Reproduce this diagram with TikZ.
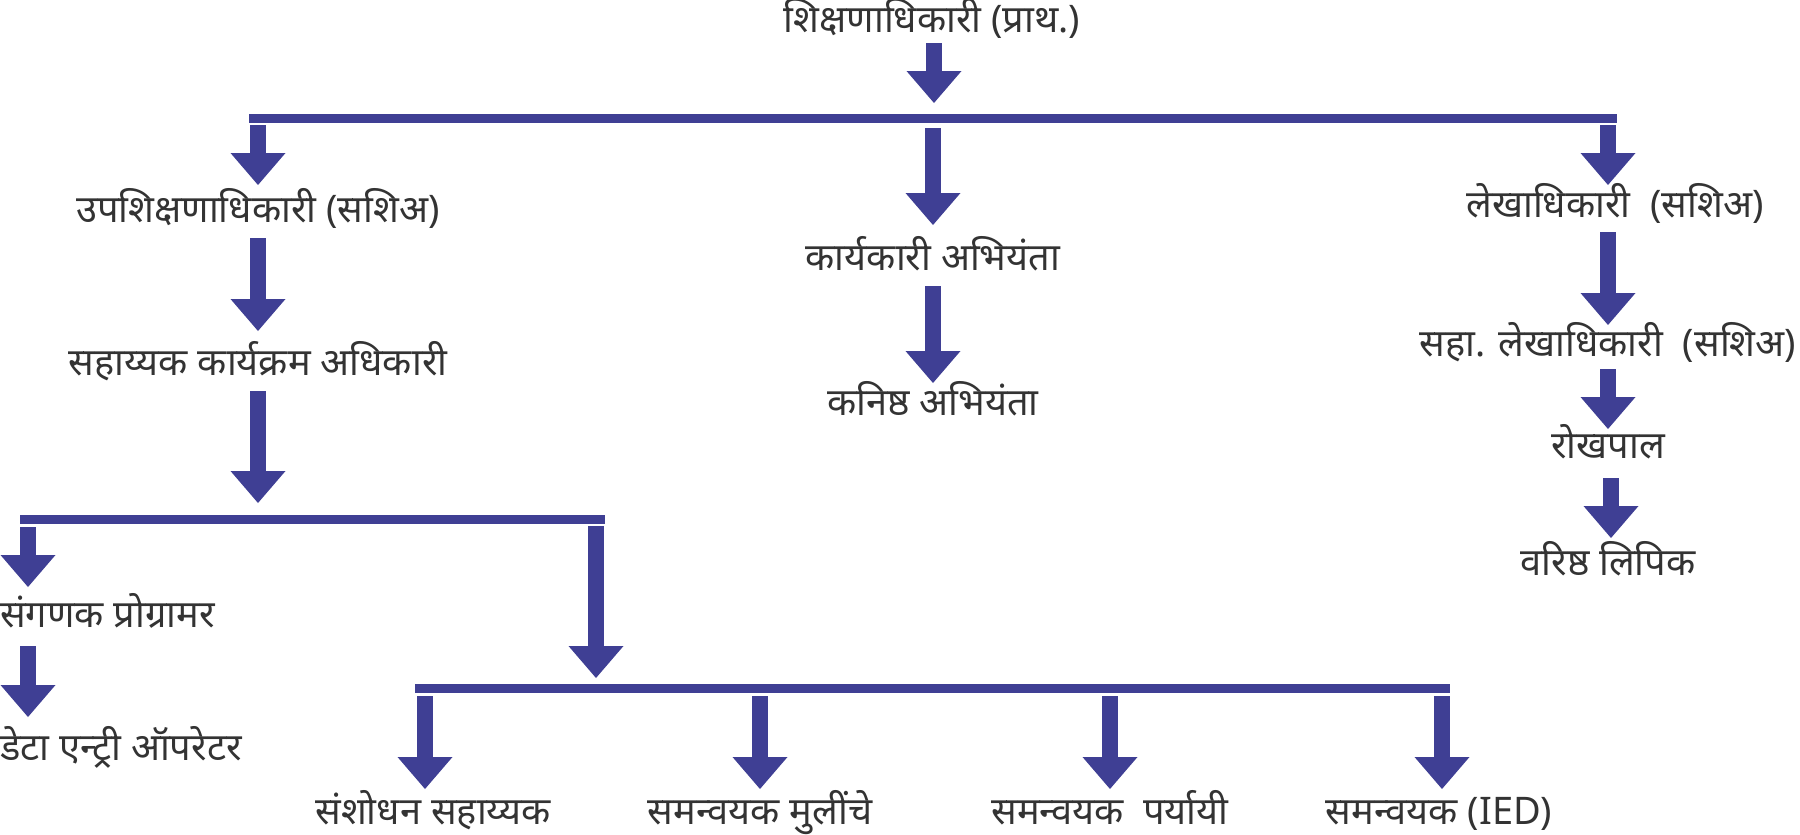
\documentclass[tikz,border=0pt]{standalone}
\usepackage{fontspec}
\newfontfamily\deva[Script=Devanagari]{Noto Sans}
\usetikzlibrary{arrows.meta}
\definecolor{arrowblue}{RGB}{63,63,148}
\definecolor{txtgrey}{RGB}{51,51,51}
\tikzset{
  lbl/.style={inner sep=0pt, outer sep=0pt, text=txtgrey, font=\deva\fontsize{38}{44}\selectfont, anchor=base},
  bar/.style={draw=arrowblue, line width=9pt, line cap=butt},
  blk/.style={draw=arrowblue, line width=16pt, line cap=butt,
    -{Triangle[length=32pt,width=55pt,line width=0pt,fill=arrowblue]}}
}
\begin{document}
\begin{tikzpicture}[x=1pt,y=-1pt]
\useasboundingbox (0,0) rectangle (1800,835);
% text nodes
\node[lbl] (top) at (932,32) {शिक्षणाधिकारी (प्राथ.)};
\node[lbl] (upa) at (258,222) {उपशिक्षणाधिकारी (सशिअ)};
\node[lbl] (sahkp) at (258,375) {सहाय्यक कार्यक्रम अधिकारी};
\node[lbl] (karya) at (933,270) {कार्यकारी अभियंता};
\node[lbl] (kanishtha) at (933,415) {कनिष्ठ अभियंता};
\node[lbl] (lekha) at (1615,217) {लेखाधिकारी~ (सशिअ)};
\node[lbl] (sahalekha) at (1608,356) {सहा. लेखाधिकारी~ (सशिअ)};
\node[lbl] (rokh) at (1608,458) {रोखपाल};
\node[lbl] (varishtha) at (1608,575) {वरिष्ठ लिपिक};
\node[lbl,anchor=base west] (sang) at (0,627) {संगणक प्रोग्रामर};
\node[lbl,anchor=base west] (data) at (0,760) {डेटा एन्ट्री ऑपरेटर};
\node[lbl] (sanshodhan) at (433,824) {संशोधन सहाय्यक};
\node[lbl] (mulinche) at (760,824) {समन्वयक मुलींचे};
\node[lbl] (paryayi) at (1110,824) {समन्वयक~ पर्यायी};
\node[lbl] (ied) at (1439,824) {समन्वयक (IED)};
% bars
\coordinate (b1L) at (249,118.5); \coordinate (b1R) at (1617,118.5);
\coordinate (b2L) at (20,519);    \coordinate (b2R) at (605,519);
\coordinate (b3L) at (415,688.5); \coordinate (b3R) at (1450,688.5);
\draw[bar] (b1L) -- (b1R);
\draw[bar] (b2L) -- (b2R);
\draw[bar] (b3L) -- (b3R);
% arrow end points
\coordinate (s1) at (934,43);   \coordinate (t1) at (934,103);
\coordinate (s2) at (258,125);  \coordinate (t2) at (258,185);
\coordinate (s3) at (933,128);  \coordinate (t3) at (933,225);
\coordinate (s4) at (1608,125); \coordinate (t4) at (1608,185);
\coordinate (s5) at (258,238);  \coordinate (t5) at (258,331);
\coordinate (s6) at (258,391);  \coordinate (t6) at (258,503);
\coordinate (s7) at (28,527);   \coordinate (t7) at (28,587);
\coordinate (s8) at (28,646);   \coordinate (t8) at (28,717);
\coordinate (s9) at (596,526);  \coordinate (t9) at (596,678);
\coordinate (s10) at (425,696); \coordinate (t10) at (425,789);
\coordinate (s11) at (760,696); \coordinate (t11) at (760,789);
\coordinate (s12) at (1110,696);\coordinate (t12) at (1110,789);
\coordinate (s13) at (1442,696);\coordinate (t13) at (1442,789);
\coordinate (s14) at (933,286); \coordinate (t14) at (933,383);
\coordinate (s15) at (1608,232);\coordinate (t15) at (1608,325);
\coordinate (s16) at (1608,369);\coordinate (t16) at (1608,429);
\coordinate (s17) at (1611,478);\coordinate (t17) at (1611,538);
\foreach \i in {1,...,17} { \draw[blk] (s\i) -- (t\i); }
\end{tikzpicture}
\end{document}
